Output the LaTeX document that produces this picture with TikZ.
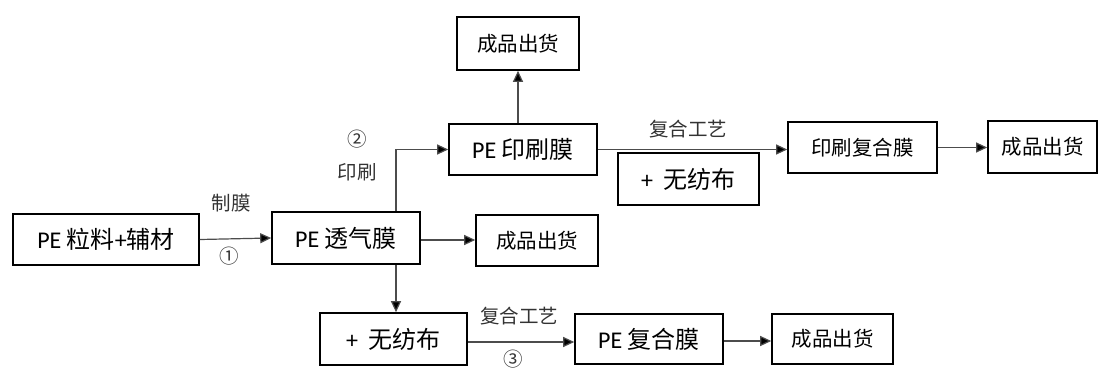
\documentclass[tikz,border=0pt]{standalone}
\usepackage{fontspec}
\setmainfont{Carlito}
\newfontfamily\cjk{Noto Sans CJK SC}
\usetikzlibrary{arrows.meta,calc}
\begin{document}
\begin{tikzpicture}[x=1pt,y=-1pt,
  box/.style={draw=black,line width=1.6pt,inner sep=0pt,align=center},
  big/.style={box,font=\fontsize{24}{26}\selectfont},
  small/.style={box,font=\fontsize{20.5}{23}\selectfont\cjk},
  lbl/.style={font=\fontsize{19.5}{22}\selectfont\cjk,text=black!80,inner sep=0pt},
  arr/.style={draw=black!70,line width=1.2pt,-{Triangle[length=11pt,width=10pt,fill=black]}}]
\useasboundingbox (0,0) rectangle (1099,369);
\node[big,minimum width=186pt,minimum height=51pt] (raw) at (106,239.5) {PE {\cjk 粒料}+{\cjk 辅材}};
\node[big,minimum width=148pt,minimum height=52pt] (breath) at (346,238) {PE {\cjk 透气膜}};
\node[small,minimum width=122pt,minimum height=51pt] (ship1) at (537,240.5) {成品出货};
\node[big,minimum width=147pt,minimum height=52pt] (nw1) at (393.5,339) {+ \ {\cjk 无纺布}};
\node[big,minimum width=148pt,minimum height=50pt] (comp) at (649,339) {PE {\cjk 复合膜}};
\node[small,minimum width=121pt,minimum height=50pt] (ship3) at (832.5,339) {成品出货};
\node[big,minimum width=148pt,minimum height=51pt] (print) at (523,149.5) {PE {\cjk 印刷膜}};
\node[small,minimum width=122pt,minimum height=53pt] (ship0) at (518,43.5) {成品出货};
\node[big,minimum width=141pt,minimum height=52pt] (nw2) at (688.5,179) {+ \ {\cjk 无纺布}};
\node[small,minimum width=149pt,minimum height=51pt] (pcomp) at (862.5,147.5) {印刷复合膜};
\node[small,minimum width=109pt,minimum height=52pt] (ship2) at (1042.5,147) {成品出货};
% connectors
\draw[arr] (raw.east) -- (breath.west);
\draw[arr] ($(breath.east)+(0,2)$) -- (ship1.west |- {$(breath.east)+(0,2)$});
\coordinate (bx) at (396,0);
\draw[arr] (breath.south -| bx) -- (nw1.north -| bx);
\draw[arr] (breath.north -| bx) |- (print.west);
\draw[arr] (print.north -| ship0.south) -- (ship0.south);
\draw[arr] (print.east) -- (pcomp.west |- print.east);
\draw[arr] (pcomp.east) -- (ship2.west |- pcomp.east);
\draw[arr] ($(nw1.east)+(0,3)$) -- (comp.west |- {$(nw1.east)+(0,3)$});
\draw[arr] ($(comp.east)+(0,2)$) -- (ship3.west |- {$(comp.east)+(0,2)$});
% labels
\node[lbl] (l1) at (231,203) {制膜};
\node[lbl] (n1) at (229,256) {①};
\node[lbl] (n2) at (357,139) {②};
\node[lbl] (l2) at (357,172) {印刷};
\node[lbl] (l3) at (688,129) {复合工艺};
\node[lbl] (l4) at (519,316) {复合工艺};
\node[lbl] (n3) at (513,359) {③};
\end{tikzpicture}
\end{document}
